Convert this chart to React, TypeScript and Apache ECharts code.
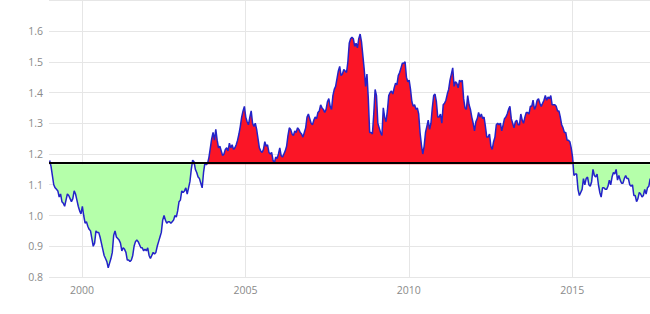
import React, { useEffect, useRef } from "react";
import * as echarts from "echarts";

// EUR/USD, two readings per month (first half, second half)
const rates1999 = [1.179, 1.16, 1.13, 1.1, 1.09, 1.085, 1.08, 1.06, 1.07, 1.045, 1.04, 1.03, 1.05, 1.07, 1.065, 1.055, 1.045, 1.055, 1.08, 1.07, 1.05, 1.03, 1.015, 1.005];
const rates2000 = [1.03, 1.0, 0.975, 0.98, 0.965, 0.955, 0.95, 0.925, 0.9, 0.91, 0.95, 0.945, 0.945, 0.93, 0.91, 0.89, 0.87, 0.86, 0.85, 0.83, 0.845, 0.86, 0.88, 0.935];
const rates2001 = [0.95, 0.93, 0.925, 0.92, 0.91, 0.885, 0.895, 0.89, 0.88, 0.855, 0.855, 0.85, 0.855, 0.87, 0.9, 0.915, 0.92, 0.915, 0.905, 0.895, 0.895, 0.885, 0.89, 0.885];
const rates2002 = [0.895, 0.87, 0.86, 0.87, 0.88, 0.875, 0.88, 0.9, 0.915, 0.93, 0.945, 0.985, 1.0, 0.985, 0.975, 0.98, 0.98, 0.975, 0.98, 0.985, 1.0, 0.995, 1.015, 1.045];
const rates2003 = [1.05, 1.08, 1.075, 1.08, 1.09, 1.07, 1.09, 1.11, 1.15, 1.18, 1.175, 1.15, 1.14, 1.125, 1.12, 1.105, 1.09, 1.14, 1.17, 1.165, 1.17, 1.19, 1.22, 1.25];
const rates2004 = [1.27, 1.245, 1.28, 1.245, 1.22, 1.225, 1.21, 1.195, 1.2, 1.215, 1.22, 1.21, 1.235, 1.22, 1.23, 1.215, 1.22, 1.23, 1.245, 1.265, 1.29, 1.32, 1.34, 1.355];
const rates2005 = [1.32, 1.305, 1.295, 1.32, 1.34, 1.3, 1.29, 1.3, 1.28, 1.25, 1.22, 1.21, 1.205, 1.215, 1.24, 1.225, 1.23, 1.205, 1.2, 1.205, 1.18, 1.17, 1.19, 1.185];
const rates2006 = [1.2, 1.22, 1.195, 1.19, 1.2, 1.21, 1.225, 1.26, 1.285, 1.28, 1.265, 1.26, 1.275, 1.27, 1.285, 1.28, 1.27, 1.265, 1.255, 1.27, 1.285, 1.32, 1.33, 1.315];
const rates2007 = [1.3, 1.295, 1.31, 1.32, 1.315, 1.335, 1.34, 1.36, 1.35, 1.345, 1.335, 1.345, 1.37, 1.38, 1.355, 1.345, 1.39, 1.41, 1.42, 1.445, 1.47, 1.485, 1.455, 1.46];
const rates2008 = [1.475, 1.47, 1.465, 1.5, 1.56, 1.575, 1.58, 1.575, 1.55, 1.56, 1.545, 1.575, 1.59, 1.565, 1.52, 1.475, 1.42, 1.46, 1.38, 1.27, 1.27, 1.265, 1.33, 1.41];
const rates2009 = [1.39, 1.3, 1.285, 1.27, 1.26, 1.35, 1.32, 1.305, 1.34, 1.39, 1.4, 1.405, 1.395, 1.415, 1.43, 1.425, 1.455, 1.465, 1.48, 1.495, 1.495, 1.5, 1.45, 1.435];
const rates2010 = [1.44, 1.41, 1.37, 1.355, 1.36, 1.345, 1.35, 1.33, 1.27, 1.23, 1.2, 1.225, 1.27, 1.29, 1.31, 1.28, 1.3, 1.35, 1.39, 1.395, 1.37, 1.32, 1.32, 1.33];
const rates2011 = [1.3, 1.36, 1.365, 1.375, 1.395, 1.41, 1.44, 1.46, 1.48, 1.42, 1.435, 1.43, 1.415, 1.44, 1.435, 1.44, 1.38, 1.35, 1.345, 1.39, 1.36, 1.345, 1.32, 1.3];
const rates2012 = [1.275, 1.305, 1.315, 1.335, 1.32, 1.33, 1.315, 1.32, 1.29, 1.255, 1.255, 1.265, 1.225, 1.215, 1.24, 1.255, 1.295, 1.3, 1.295, 1.3, 1.275, 1.295, 1.315, 1.32];
const rates2013 = [1.33, 1.345, 1.355, 1.315, 1.3, 1.285, 1.305, 1.31, 1.295, 1.295, 1.33, 1.31, 1.3, 1.32, 1.335, 1.335, 1.33, 1.355, 1.355, 1.375, 1.345, 1.355, 1.375, 1.38];
const rates2014 = [1.365, 1.355, 1.365, 1.375, 1.39, 1.375, 1.385, 1.38, 1.39, 1.36, 1.36, 1.36, 1.355, 1.34, 1.34, 1.32, 1.295, 1.285, 1.27, 1.27, 1.245, 1.245, 1.24, 1.22];
const rates2015 = [1.19, 1.13, 1.135, 1.135, 1.085, 1.065, 1.075, 1.085, 1.12, 1.1, 1.12, 1.125, 1.1, 1.095, 1.11, 1.15, 1.13, 1.125, 1.135, 1.1, 1.075, 1.06, 1.09, 1.09];
const rates2016 = [1.085, 1.085, 1.095, 1.115, 1.1, 1.125, 1.14, 1.135, 1.15, 1.115, 1.13, 1.115, 1.105, 1.105, 1.12, 1.13, 1.12, 1.12, 1.1, 1.095, 1.1, 1.065, 1.065, 1.045];
const rates2017 = [1.055, 1.075, 1.07, 1.06, 1.065, 1.085, 1.07, 1.09, 1.095, 1.12];

const ratesByYear: [number, number[]][] = [
  [1999, rates1999], [2000, rates2000], [2001, rates2001], [2002, rates2002],
  [2003, rates2003], [2004, rates2004], [2005, rates2005], [2006, rates2006],
  [2007, rates2007], [2008, rates2008], [2009, rates2009], [2010, rates2010],
  [2011, rates2011], [2012, rates2012], [2013, rates2013], [2014, rates2014],
  [2015, rates2015], [2016, rates2016], [2017, rates2017],
];

const baseline = 1.167;
const yearTicks = [2000, 2005, 2010, 2015];

export default function App() {
  const ref = useRef<HTMLDivElement>(null);
  useEffect(() => {
    if (!ref.current) return;
    const chart = echarts.init(ref.current, null, { renderer: "svg" });
    const points: [number, number][] = [];
    ratesByYear.forEach(([yr, arr]) => {
      arr.forEach((v, i) => points.push([yr + i / 24 + 1 / 96, v]));
    });
    const above = points.map(([x, v]) => [x, Math.max(v, baseline)]);
    const below = points.map(([x, v]) => [x, Math.min(v, baseline)]);
    const font = { fontFamily: "Open Sans", fontSize: 10.5, color: "#8a8a8a" };
    chart.setOption({
      animation: false,
      grid: { left: 49, right: 0, top: 0.25, bottom: 37, containLabel: false },
      xAxis: {
        type: "value",
        min: 1998.99,
        max: 2017.38,
        axisLine: { show: false },
        axisTick: { show: false, customValues: yearTicks },
        axisLabel: { ...font, margin: 7, customValues: yearTicks, formatter: (v: number) => String(v) },
        splitLine: { show: true, lineStyle: { color: "#e6e6e6", width: 1 } },
      },
      yAxis: {
        type: "value",
        min: 0.8,
        max: 1.7,
        interval: 0.1,
        axisLine: { show: false },
        axisTick: { show: false },
        axisLabel: { ...font, margin: 6, showMaxLabel: false, formatter: (v: number) => v.toFixed(1) },
        splitLine: { show: true, lineStyle: { color: "#e6e6e6", width: 1 } },
      },
      series: [
        {
          type: "line",
          data: above,
          symbol: "none",
          lineStyle: { width: 0 },
          areaStyle: { color: "#fb1526", opacity: 1, origin: baseline },
          silent: true,
          z: 2,
        },
        {
          type: "line",
          data: below,
          symbol: "none",
          lineStyle: { width: 0 },
          areaStyle: { color: "#b5ffaa", opacity: 1, origin: baseline },
          silent: true,
          z: 2,
        },
        {
          type: "line",
          data: points,
          symbol: "none",
          lineStyle: { color: "#2323c8", width: 1.5 },
          z: 3,
          markLine: {
            silent: true,
            symbol: ["none", "none"],
            label: { show: false },
            lineStyle: { color: "#000000", width: 2, type: "solid" },
            data: [{ yAxis: baseline }],
            z: 4,
          },
        },
      ],
    });
    return () => chart.dispose();
  }, []);
  return <div ref={ref} style={{ width: 650, height: 314, position: "absolute", left: 0, top: 0 }} />;
}
